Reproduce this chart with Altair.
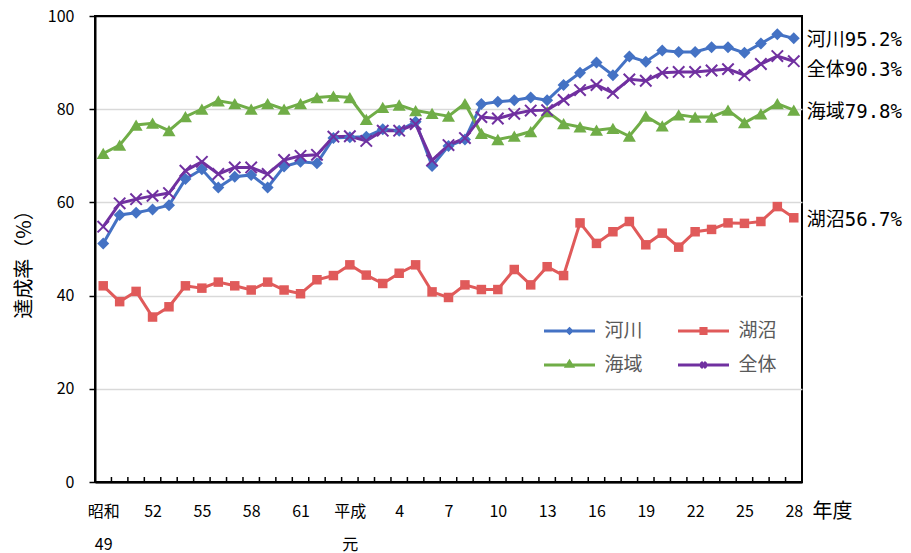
import altair as alt
import pandas as pd

# 年度ラベル（昭和49年度〜平成28年度）
年度 = (["昭和\n49"] + [str(n) for n in range(50, 64)]
        + ["平成\n元"] + [str(n) for n in range(2, 29)])

# 環境基準達成率（%）
河川 = [51.2, 57.3, 57.8, 58.5, 59.4, 65.0, 67.1, 63.2, 65.5, 65.9,
        63.2, 67.7, 68.7, 68.4, 73.8, 74.0, 74.1, 75.7, 75.4, 77.3,
        67.8, 72.1, 73.5, 81.1, 81.6, 81.9, 82.5, 81.9, 85.2, 87.8,
        90.0, 87.3, 91.3, 90.2, 92.6, 92.3, 92.3, 93.3, 93.3, 92.1,
        94.1, 96.1, 95.2]
湖沼 = [42.1, 38.7, 40.9, 35.4, 37.6, 42.1, 41.6, 42.9, 42.1, 41.2,
        42.9, 41.2, 40.4, 43.4, 44.3, 46.6, 44.4, 42.6, 44.8, 46.6,
        40.8, 39.6, 42.3, 41.3, 41.3, 45.6, 42.3, 46.2, 44.3, 55.6,
        51.2, 53.7, 55.9, 50.9, 53.4, 50.4, 53.7, 54.2, 55.6, 55.5,
        55.9, 59.1, 56.7]
海域 = [70.5, 72.3, 76.6, 77.0, 75.4, 78.4, 80.0, 81.8, 81.2, 80.0,
        81.2, 80.0, 81.2, 82.5, 82.8, 82.5, 77.8, 80.4, 80.9, 79.7,
        79.1, 78.5, 81.2, 74.8, 73.5, 74.2, 75.2, 79.5, 76.9, 76.2,
        75.5, 75.9, 74.2, 78.5, 76.4, 78.8, 78.3, 78.3, 79.8, 77.1,
        79.0, 81.2, 79.8]
全体 = [54.8, 59.8, 60.7, 61.4, 62.0, 66.8, 68.7, 66.1, 67.5, 67.5,
        66.1, 69.1, 70.0, 70.2, 74.1, 74.2, 73.2, 75.4, 75.4, 76.8,
        69.0, 72.3, 73.8, 78.3, 78.0, 79.0, 79.7, 79.8, 82.0, 84.1,
        85.2, 83.5, 86.4, 86.1, 87.8, 88.0, 88.0, 88.3, 88.6, 87.3,
        89.7, 91.4, 90.3]

系列 = ["河川", "湖沼", "海域", "全体"]
色 = ["#4472C4", "#E05A5A", "#70AD47", "#7030A0"]
y_ticks = [0, 20, 40, 60, 80, 100]

rows = []
for name, vals in zip(系列, [河川, 湖沼, 海域, 全体]):
    for i, (yr, v) in enumerate(zip(年度, vals)):
        rows.append({"year": yr, "series": name, "value": v, "idx": i})
df = pd.DataFrame(rows)
last = len(年度) - 1

W, H = 707, 466
step = W / len(年度)
JP = "Noto Sans CJK JP"

x_enc = alt.X(
    "year:N", sort=年度,
    scale=alt.Scale(type="point", domain=年度, padding=0.5),
    axis=alt.Axis(
        values=年度[::3], labelExpr="split(datum.label, '\\n')",
        labelLineHeight=33, labelAngle=0, labelPadding=21,
        labelFontSize=16, labelColor="black", labelFont=JP,
        ticks=False, tickSize=0, grid=False,
        domainColor="black", domainWidth=2, zindex=1,
        title="年度", titleFont=JP, titleFontSize=20, titleFontWeight="normal",
        titleColor="black", titleX=W + 10, titleY=29,
        titleAlign="left", titleBaseline="middle",
    ),
)

y_enc = alt.Y(
    "value:Q",
    scale=alt.Scale(domain=[0, 100], nice=False),
    axis=alt.Axis(
        values=y_ticks, grid=True,
        gridColor=alt.condition("datum.value == 100 || datum.value == 0",
                                alt.value("black"), alt.value("#D9D9D9")),
        gridWidth=1.5,
        domainColor="black", domainWidth=2,
        tickColor="black", tickSize=6, tickWidth=1.5,
        labelFontSize=16, labelColor="black", labelPadding=15, labelFont=JP,
        title="達成率（%）", titleFont=JP, titleFontSize=20,
        titleFontWeight="normal", titleColor="black",
        titleX=-71, titleY=H / 2 + 10, titleAlign="center", titleBaseline="middle",
    ),
)

base = alt.Chart(df)

# 各系列のマーカー
markers = {
    "河川": dict(shape="diamond", size=144, filled=True),
    "湖沼": dict(shape="square", size=90, filled=True),
    "海域": dict(shape="triangle-up", size=170, filled=True),
    "全体": dict(shape="M-1,-1L1,1M-1,1L1,-1", size=130, filled=False, strokeWidth=2),
}

line_layers, point_layers = [], []
for name, c in zip(系列, 色):
    sub = base.transform_filter(alt.datum.series == name)
    line_layers.append(
        sub.mark_line(strokeWidth=3, color=c).encode(x=x_enc, y=y_enc, order=alt.Order("idx:Q"))
    )
    point_layers.append(
        sub.mark_point(opacity=1, color=c, **markers[name]).encode(x=x_enc, y=y_enc)
    )

# 横軸の目盛（年度の区切りに内向き）
tick_df = pd.DataFrame({"year": 年度})
x_ticks = alt.Chart(tick_df).mark_rule(
    color="black", strokeWidth=1.5, xOffset=-step / 2
).encode(x=x_enc, y=alt.value(H), y2=alt.value(H - 5))

# 最終年度の値ラベル
label_calc = "datum.series + format(datum.value, '.1f') + '%'"
end_font = "DejaVu Sans Mono, Noto Sans CJK JP"
end_labels = (
    base.transform_filter(f"datum.idx == {last} && datum.series != '全体'")
    .transform_calculate(label=label_calc)
    .mark_text(align="left", baseline="middle", dx=13, dy=2,
               fontSize=19, font=end_font, color="black")
    .encode(x=x_enc, y=y_enc, text="label:N")
)
end_label_all = (
    base.transform_filter(f"datum.idx == {last} && datum.series == '全体'")
    .transform_calculate(label=label_calc)
    .mark_text(align="left", baseline="middle", dx=13, dy=9,
               fontSize=19, font=end_font, color="black")
    .encode(x=x_enc, y=y_enc, text="label:N")
)

# 凡例（線＋マーカー）：2列、行方向に 河川・湖沼 / 海域・全体
凡例順 = ["河川", "海域", "湖沼", "全体"]
凡例色 = [色[系列.index(s)] for s in 凡例順]
凡例記号 = {
    "河川": "M-3,0H3M0,-0.25L0.25,0L0,0.25L-0.25,0Z",
    "湖沼": "M-3,0H3M-0.3,-0.3H0.3V0.3H-0.3Z",
    "海域": "M-3,0H3M0,-0.4L0.35,0.15H-0.35Z",
    "全体": "M-3,0H3M-0.3,-0.35L0.3,0.35M-0.3,0.35L0.3,-0.35",
}
leg = alt.Legend(
    title=None, orient="none", legendX=464.5, legendY=305, columns=2,
    symbolSize=289, symbolStrokeWidth=3, labelFontSize=19, labelColor="#595959",
    labelFont=JP, labelOffset=25, columnPadding=28, rowPadding=14, padding=0,
)
legend_layer = (
    base.transform_filter("datum.idx == 0")
    .mark_point(filled=True, strokeWidth=3, opacity=1, size=0)
    .encode(
        color=alt.Color("series:N", scale=alt.Scale(domain=凡例順, range=凡例色), legend=leg),
        stroke=alt.Stroke("series:N", scale=alt.Scale(domain=凡例順, range=凡例色), legend=leg),
        shape=alt.Shape("series:N",
                        scale=alt.Scale(domain=凡例順, range=[凡例記号[s] for s in 凡例順]),
                        legend=leg),
    )
)

chart = (
    alt.layer(*line_layers, *point_layers, x_ticks, end_labels, end_label_all, legend_layer)
    .properties(
        width=W, height=H,
        padding={"left": 95, "top": 16, "right": 109, "bottom": 71},
        autosize=alt.AutoSizeParams(type="none"),
    )
    .configure(font=JP)
    .configure_view(stroke="black", strokeWidth=2)
)

chart.save("out.html", embed_options={"renderer": "svg", "actions": False})
